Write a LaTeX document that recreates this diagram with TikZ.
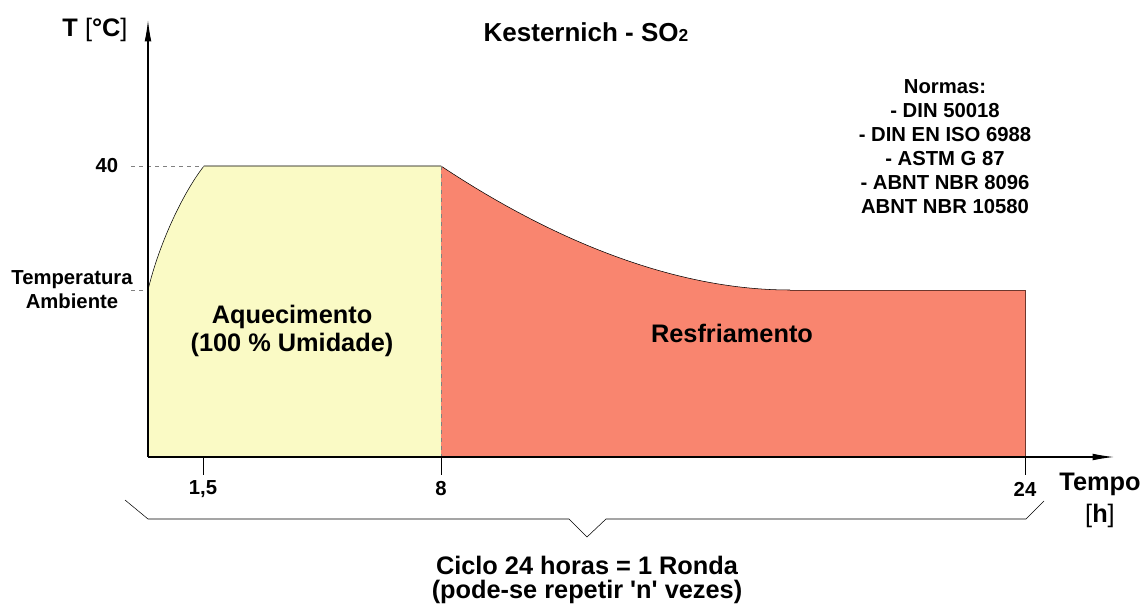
\documentclass[tikz,border=0pt]{standalone}
\usepackage{fontspec}
\setmainfont{Liberation Sans}
\usetikzlibrary{arrows.meta}
\definecolor{heatyellow}{RGB}{250,250,197}
\definecolor{coolred}{RGB}{249,133,111}
\definecolor{coolline}{RGB}{110,55,45}
\def\heatarea{(148,457) -- (148,290) .. controls (160,240) and (185,190) .. (204,166) -- (441,166) -- (441,457) -- cycle}
\def\coolarea{(441,166) .. controls (560,245) and (680,290) .. (790,290) -- (1025,290) -- (1025,457) -- (441,457) -- cycle}
\tikzset{
	big/.style={font=\fontsize{19}{21}\selectfont\bfseries, align=center},
	small/.style={font=\fontsize{15.2}{18}\selectfont\bfseries, align=center},
	guide/.style={gray, dashed, line width=0.6pt},
	axis/.style={-{Latex[length=16pt,width=5pt]}, line width=0.8pt}
}

\begin{document}
\begin{tikzpicture}[x=0.75pt, y=-0.75pt]
	\useasboundingbox (0,0) rectangle (1143,606);
	\fill[heatyellow] \heatarea;
	\fill[coolred] \coolarea;

	\draw (148,290) .. controls (160,240) and (185,190) .. (204,166) -- (441,166) .. controls (560,245) and (680,290) .. (790,290);
	\draw[coolline] (790,290) -- (1025,290) -- (1025,457);
	\draw[guide] (441,166) -- (441,457);
	\draw[guide] (131,166) -- (204,166);
	\draw[guide] (131,290) -- (148,290);

	\draw[axis] (148,457) -- (148,20);
	\draw[axis] (148,457) -- (1114,457);
	\foreach \x/\t/\n in {203/{1,5}/a, 441/8/b, 1025/24/c}
		\draw (\x,457) -- (\x,475) (\x,489) node[small] (tick\n) {\t};

	\draw (125,500) -- (148,519) -- (569,519) -- (587,537) -- (606,519) -- (1026,519) -- (1044,501);

	\node[big] (ylabel) at (95,30) {T {\mdseries[}°C{\mdseries]}};
	\node[big] (xlabel) at (1100,500) {Tempo\\[3pt]{\mdseries[}h{\mdseries]}};
	\node[big, font=\fontsize{19.5}{21}\selectfont\bfseries] (title) at (586,32) {Kesternich - SO{\fontsize{13}{13}\selectfont 2}};
	\node[small] (forty) at (107,166) {40};
	\node[small] (ambient) at (72,290) {Temperatura\\Ambiente};
	\node[big] (heating) at (292,331) {Aquecimento\\(100 \% Umidade)};
	\node[big] (cooling) at (732,333) {Resfriamento};
	\node[small] (norms) at (945,147) {Normas:\\- DIN 50018\\- DIN EN ISO 6988\\- ASTM G 87\\- ABNT NBR 8096\\ABNT NBR 10580};
	\node[big, font=\fontsize{19}{18}\selectfont\bfseries] (cycle) at (587,580) {Ciclo 24 horas = 1 Ronda\\(pode-se repetir \textquotesingle n\textquotesingle{} vezes)};
\end{tikzpicture}
\end{document}
